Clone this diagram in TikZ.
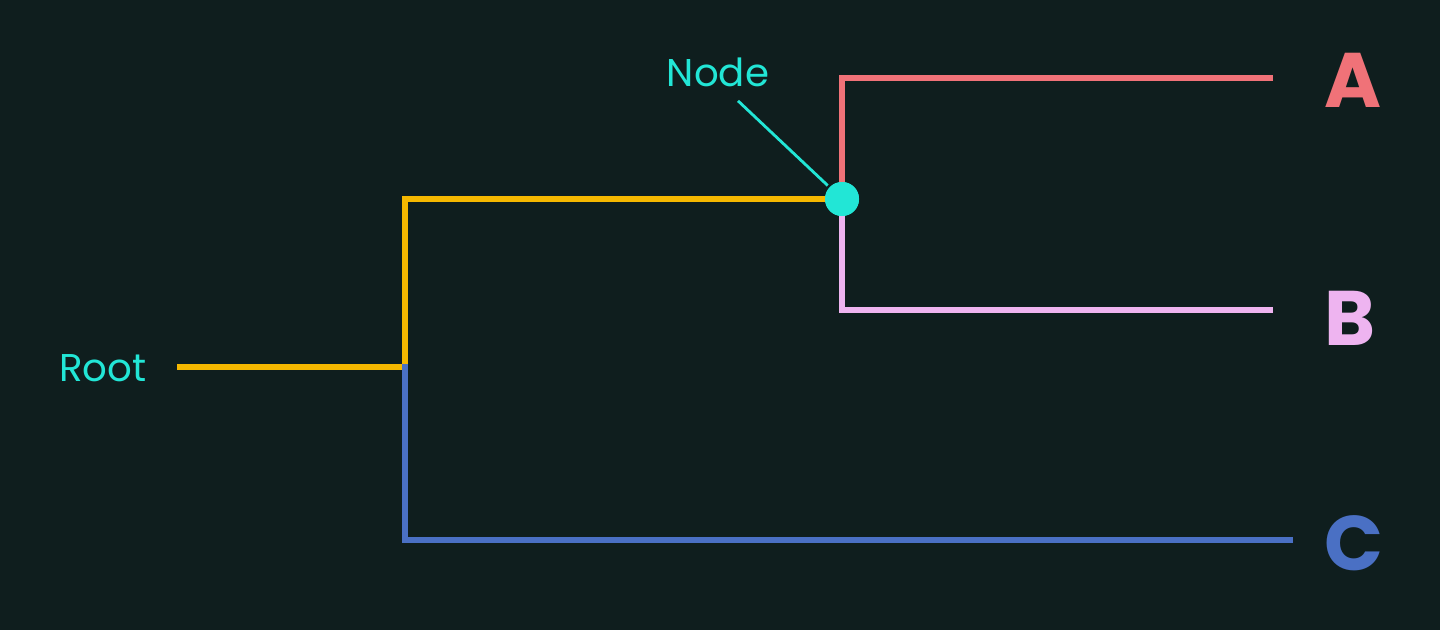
\documentclass[tikz,border=0pt]{standalone}
\usepackage{fontspec}
\setmainfont{Poppins}
\usetikzlibrary{positioning}
\definecolor{bg}{HTML}{0F1E1E}
\definecolor{gold}{HTML}{F5B800}
\definecolor{rose}{HTML}{F07278}
\definecolor{lilac}{HTML}{EEB4F0}
\definecolor{steel}{HTML}{4A70C4}
\definecolor{aqua}{HTML}{22E6D6}
\begin{document}
\begin{tikzpicture}[x=0.01cm,y=-0.01cm,line width=1.5pt,
                    branch/.style={line cap=rect},
                    tip label/.style={font=\bfseries\fontsize{22}{24}\selectfont,anchor=west}]
  \fill[bg] (0,0) rectangle (1440,630);

  \node[text=aqua,font=\fontsize{11}{13}\selectfont] (root) at (103,368) {Root};
  \coordinate (r0) at (180,367);
  \coordinate (split) at (405,367);
  \node[circle,fill=aqua,inner sep=0pt,minimum size=0.34cm] (inner) at (842,199) {};
  \coordinate (ea) at (1270,78);
  \coordinate (eb) at (1270,310);
  \coordinate (ec) at (1290,540);
  \node[tip label,text=rose] (A) at (1310,80) {A};
  \node[tip label,text=lilac] (B) at (1310,318) {B};
  \node[tip label,text=steel] (C) at (1310,543) {C};
  \node[text=aqua,font=\fontsize{11}{13}\selectfont] (lbl) at (718,72) {Node};

  \draw[gold,branch] (r0) -- (split) |- (inner.center);
  \draw[steel,branch] (split) |- (ec);
  \draw[rose,branch] (inner.center) |- (ea);
  \draw[lilac,branch] (inner.center) |- (eb);
  \node[circle,fill=aqua,inner sep=0pt,minimum size=0.34cm] at (inner) {};
  \draw[aqua,line width=0.8pt] (lbl.south) ++(20,0) -- (inner);
\end{tikzpicture}
\end{document}
